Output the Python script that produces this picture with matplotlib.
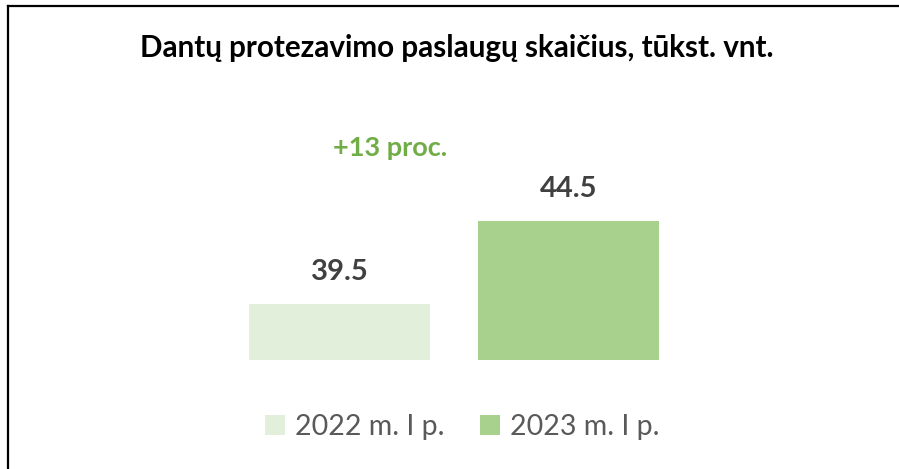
import matplotlib
matplotlib.use('Agg')
import matplotlib.pyplot as plt
from matplotlib.lines import Line2D

plt.rcParams['font.family'] = ['Lato', 'DejaVu Sans']

title = 'Dantų protezavimo paslaugų skaičius, tūkst. vnt.'
periods = ['2022 m. I p.', '2023 m. I p.']
values = [39.5, 44.5]
colors = ['#E2EFDA', '#A9D18E']

fig = plt.figure(figsize=(8.99, 4.69), dpi=100)
ax = fig.add_axes([0, 109 / 469, 1, 260 / 469])

handles = []
for i, (p, v, c) in enumerate(zip(periods, values, colors)):
    b = ax.bar(i, v, width=0.79, color=c, label=p)
    ax.bar_label(b, fmt='%.1f', padding=14, fontsize=21, fontweight='bold', color='#404040')
    handles.append(b)

ax.set_xlim(-339.5 / 229, (899 - 339.5) / 229)
ax.set_ylim(36.13, 51.79)
ax.axis('off')

change = round((values[1] / values[0] - 1) * 100)
ax.text(0.22, 48.9, f'+{change} proc.', ha='center', va='center',
        fontsize=19.5, fontweight='bold', color='#70AD47')

fig.text(0.508, 0.898, title, ha='center', va='center', fontsize=21.3, fontweight='bold', color='black')

fig.legend(handles=handles, loc='center', bbox_to_anchor=(0.514, 0.09), ncol=2, frameon=False,
           fontsize=20.5, labelcolor='#595959', handlelength=0.7, handleheight=0.7,
           handletextpad=0.35, columnspacing=1.25)

# frame (left and top edges visible)
fig.add_artist(Line2D([8 / 899, 8 / 899], [0, 463 / 469], color='black', lw=1.6))
fig.add_artist(Line2D([8 / 899, 1], [463 / 469, 463 / 469], color='black', lw=1.6))

fig.savefig('out.png', dpi=100)
